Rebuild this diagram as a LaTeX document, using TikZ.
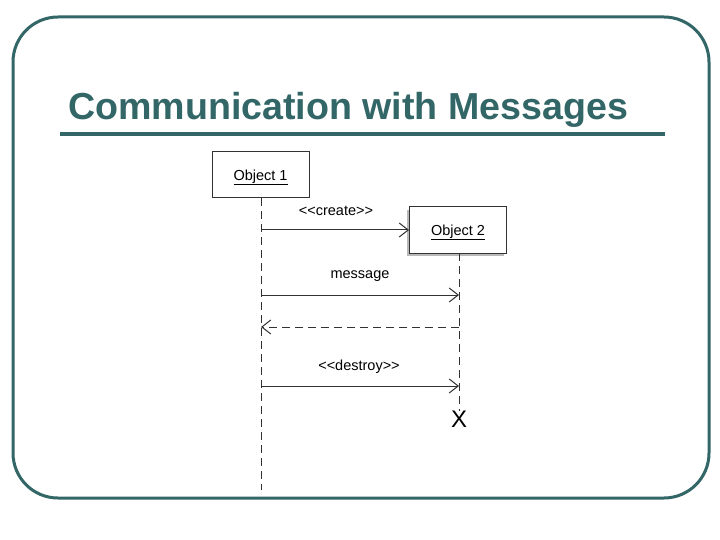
\documentclass[tikz,border=0pt]{standalone}
\usepackage{fontspec}
\setmainfont{Liberation Sans}
\usetikzlibrary{arrows.meta}
\definecolor{teal1}{RGB}{51,102,102}
\definecolor{ink}{RGB}{50,50,50}
\begin{document}
\begin{tikzpicture}[x=1pt,y=-1pt,
  objbox/.style={draw=ink,line width=1pt,fill=white,minimum width=97pt,minimum height=46pt,inner sep=0pt,text height=10.5pt,text depth=0pt,font=\fontsize{14.5}{16}\selectfont},
  lifeline/.style={draw=ink,line width=1pt,dash pattern=on 8pt off 5pt},
  msg/.style={draw=ink,line width=1pt,-{Straight Barb[length=9pt,width=14pt]}},
  ret/.style={msg,dash pattern=on 8pt off 5pt},
  lbl/.style={font=\fontsize{14.5}{16}\selectfont,inner sep=0pt}]
\useasboundingbox (0,0) rectangle (720,540);
\fill[white] (0,0) rectangle (720,540);
% frame
\draw[teal1,line width=3pt,rounded corners=45pt] (13,17) rectangle (709,498);
% title
\node[anchor=base west,inner sep=0pt,text=teal1,font=\fontsize{37.6}{40}\selectfont\bfseries] (title) at (68,120) {Communication with Messages};
\draw[teal1,line width=3.5pt] (60,134) -- (665,134);
% objects
\node[objbox] (o1) at (260.5,175) {\underline{Object 1}};
\fill[gray!55] (406.5,210) rectangle (503.5,256);
\node[objbox] (o2) at (458,230) {\underline{Object 2}};
% lifeline ends
\coordinate (l1end) at (261,490);
\node[lbl,font=\fontsize{24}{26}\selectfont] (x) at (459,419) {X};
\draw[lifeline] (261,198) -- (l1end);
\draw[lifeline] (459,253) -- (x.north);
% messages
\coordinate (c1) at (261,230);
\draw[msg] (c1) -- (o2.west |- c1);
\node[lbl] (lcreate) at (336,211) {<{}<create>{}>};
\coordinate (m1) at (261,295);
\coordinate (m2) at (459,295);
\draw[msg] (m1) -- (m2);
\node[lbl] (lmsg) at (360,276) {message};
\coordinate (r1) at (459,327);
\coordinate (r2) at (261,327);
\draw[ret] (r1) -- (r2);
\coordinate (d1) at (261,386);
\coordinate (d2) at (459,386);
\draw[msg] (d1) -- (d2);
\node[lbl] (ldestroy) at (359,367) {<{}<destroy>{}>};
\end{tikzpicture}
\end{document}
